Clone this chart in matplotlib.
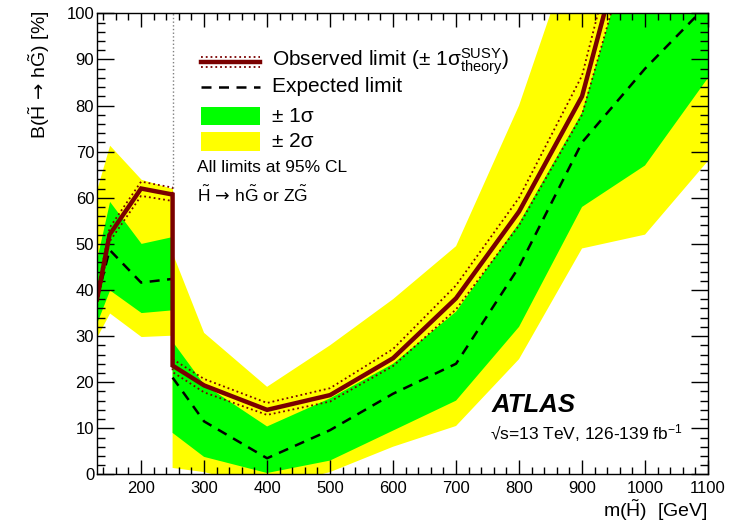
import numpy as np
import matplotlib.pyplot as plt
from matplotlib.ticker import MultipleLocator
from matplotlib.patches import Rectangle
from matplotlib.lines import Line2D

# ROOT / ATLAS look: Helvetica-like font everywhere
plt.rcParams['font.family'] = 'Liberation Sans'
plt.rcParams['mathtext.fontset'] = 'custom'
plt.rcParams['mathtext.rm'] = 'Liberation Sans'
plt.rcParams['mathtext.it'] = 'Liberation Sans:italic'
plt.rcParams['mathtext.bf'] = 'Liberation Sans:bold'
plt.rcParams['mathtext.sf'] = 'DejaVu Sans'   # only used for the arrow

# Low-mass analysis (130-250 GeV), values in %
mass_low = [130, 150, 200, 250]
obs_low = [38.0, 52.0, 62.0, 60.7]
obs_low_up = [39.5, 53.5, 63.5, 62.2]
obs_low_dn = [36.5, 50.5, 60.4, 59.3]
exp_low = [38.0, 48.7, 41.6, 42.4]
g_up_low = [47.0, 59.2, 50.1, 51.6]
g_dn_low = [33.0, 40.0, 35.1, 35.7]
y_up_low = [62.0, 71.4, 64.0, 62.0]
y_dn_low = [29.9, 35.0, 29.9, 30.2]

# High-mass analysis (250-1100 GeV), values in %
mass_high = [250, 300, 400, 500, 600, 700, 800, 900, 1000, 1100]
obs_high = [23.6, 19.3, 14.0, 17.2, 25.2, 38.2, 57.0, 82.0, 133.0, 160.0]
obs_high_up = [25.0, 20.7, 15.5, 18.7, 27.2, 41.0, 60.0, 86.5, 140.0, 170.0]
obs_high_dn = [22.2, 17.8, 12.9, 15.8, 23.5, 35.8, 54.0, 78.0, 126.0, 150.0]
exp_high = [21.0, 11.5, 3.5, 9.6, 17.5, 24.0, 45.0, 72.0, 88.0, 102.0]
g_up_high = [28.8, 19.5, 10.4, 16.5, 24.0, 35.3, 54.5, 78.5, 125.0, 150.0]
g_dn_high = [9.0, 3.8, 0.3, 3.0, 9.5, 16.0, 32.0, 58.0, 67.0, 86.0]
y_up_high = [48.0, 30.7, 19.0, 28.0, 38.0, 49.5, 80.0, 120.0, 150.0, 180.0]
y_dn_high = [1.4, 0.5, -3.0, 0.5, 6.0, 10.5, 25.0, 49.0, 52.0, 68.0]

yellow = '#ffff00'
green = '#00ff00'
darkred = '#7a0000'

fig = plt.figure(figsize=(7.49, 5.28), dpi=100)
ax = fig.add_axes([0.1295, 0.1015, 0.8158, 0.8733])

# bands
for m, lo, hi in [(mass_low, y_dn_low, y_up_low), (mass_high, y_dn_high, y_up_high)]:
    ax.fill_between(m, lo, hi, color=yellow, lw=0)
for m, lo, hi in [(mass_low, g_dn_low, g_up_low), (mass_high, g_dn_high, g_up_high)]:
    ax.fill_between(m, lo, hi, color=green, lw=0)

# expected
ax.plot(mass_low, exp_low, color='black', ls=(0, (4, 3)), lw=1.8)
ax.plot(mass_high, exp_high, color='black', ls=(0, (4, 3)), lw=1.8)

# observed with theory uncertainty
mass_all = mass_low + mass_high
ax.plot(mass_all, obs_low_up + obs_high_up, color=darkred, ls=':', lw=1.3)
ax.plot(mass_all, obs_low_dn + obs_high_dn, color=darkred, ls=':', lw=1.3)
ax.plot(mass_all, obs_low + obs_high, color=darkred, lw=3.2, solid_joinstyle='miter')

# separator between the two analyses
ax.plot([250, 250], [obs_low_up[-1], 100], color='gray', ls=':', lw=1)

ax.set_xlim(130, 1100)
ax.set_ylim(0, 100)
ax.set_xticks(range(200, 1101, 100))
ax.set_yticks(range(0, 101, 10))
ax.xaxis.set_minor_locator(MultipleLocator(20))
ax.yaxis.set_minor_locator(MultipleLocator(2))
ax.tick_params(which='both', direction='in', top=True, right=True, labelsize=12, width=1)
ax.tick_params(axis='x', which='major', length=10, pad=5)
ax.tick_params(axis='x', which='minor', length=5)
ax.tick_params(axis='y', which='major', length=12, pad=2)
ax.tick_params(axis='y', which='minor', length=6)
for s in ax.spines.values():
    s.set_linewidth(1)

arrow = r'$\,\mathsf{\rightarrow}\,$'
ax.set_xlabel(r'm($\tilde{\mathrm{H}}$)  [GeV]', fontsize=14, loc='right')
ax.xaxis.set_label_coords(1.0, -0.05)
ax.set_ylabel(r'B($\tilde{\mathrm{H}}$' + arrow + r'h$\tilde{\mathrm{G}}$) [%]', fontsize=14, loc='top')
ax.yaxis.set_label_coords(-0.074, 1.007)

# legend drawn by hand (ROOT style)
tr = ax.transAxes
x0, x1, xt = 0.171, 0.267, 0.286
rows = [0.895, 0.841, 0.777, 0.722]
ax.add_line(Line2D([x0, x1], [rows[0], rows[0]], transform=tr, color=darkred, lw=3.2))
for dy in (0.011, -0.011):
    ax.add_line(Line2D([x0, x1], [rows[0] + dy, rows[0] + dy], transform=tr, color=darkred, ls=':', lw=1.3))
ax.add_line(Line2D([x0, x1], [rows[1], rows[1]], transform=tr, color='black', ls=(0, (4, 3)), lw=1.8))
ax.add_patch(Rectangle((x0, 0.758), x1 - x0, 0.039, transform=tr, color=green, lw=0))
ax.add_patch(Rectangle((x0, 0.701), x1 - x0, 0.042, transform=tr, color=yellow, lw=0))
labels = [r'Observed limit (± 1σ$^{\mathrm{SUSY}}_{\mathrm{theory}}$)', 'Expected limit',
          '± 1σ', '± 2σ']
for r, lab in zip(rows, labels):
    ax.text(xt, r, lab, transform=tr, fontsize=15, va='center', ha='left')
ax.text(0.164, 0.665, 'All limits at 95% CL', transform=tr, fontsize=12.5, va='center')
ax.text(0.164, 0.607, r'$\tilde{\mathrm{H}}$' + arrow + r'h$\tilde{\mathrm{G}}$ or Z$\tilde{\mathrm{G}}$',
        transform=tr, fontsize=12.5, va='center')

# ATLAS label
ax.text(0.6465, 0.135, 'ATLAS', transform=tr, fontsize=18.5, fontweight='bold', fontstyle='italic')
ax.text(0.643, 0.075, r'√s=13 TeV, 126-139 fb$^{-1}$', transform=tr, fontsize=12.5)

fig.savefig('out.png', dpi=100)
